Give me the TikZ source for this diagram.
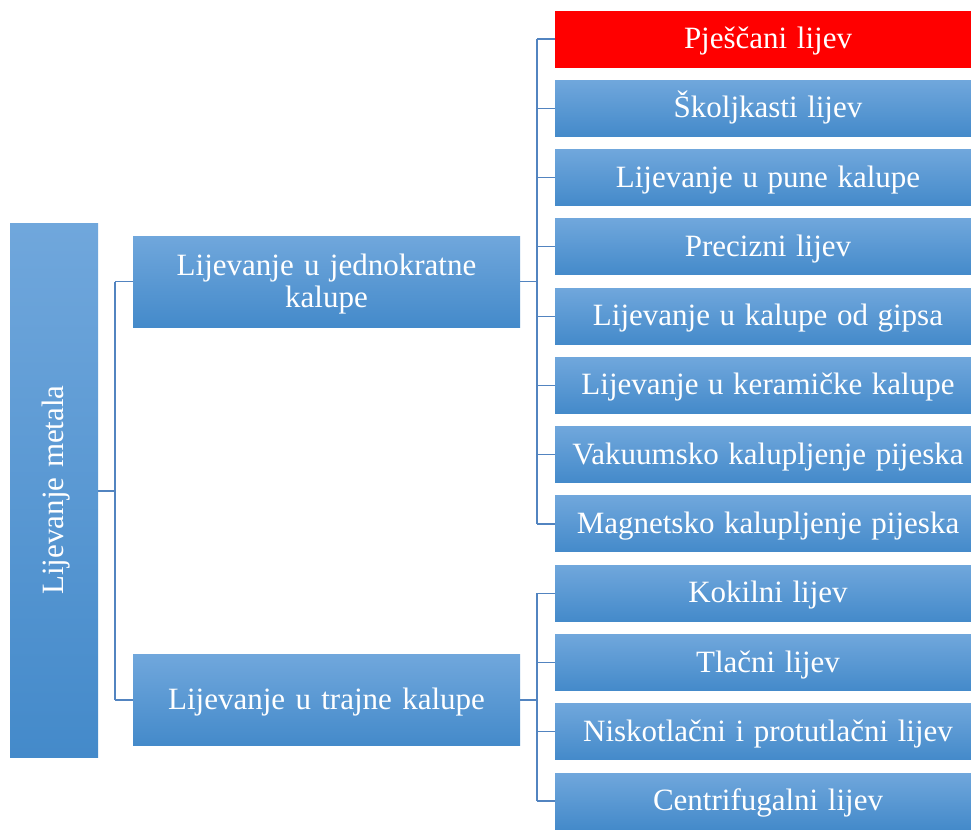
\documentclass[tikz,border=0pt]{standalone}
\usepackage{fontspec}
\setmainfont{Liberation Serif}
\definecolor{gtop}{RGB}{112,167,220}
\definecolor{gmid}{RGB}{85,154,218}
\definecolor{gbot}{RGB}{68,138,202}
\definecolor{linec}{RGB}{82,132,192}
\definecolor{redbox}{RGB}{255,0,0}
\newcommand{\boxfont}{\fontsize{31}{32}\selectfont\spaceskip=0.31em plus 0.05em minus 0.05em\relax}
\begin{document}
\begin{tikzpicture}[x=1pt,y=-1pt,
  box/.style={rectangle, inner sep=0pt, draw=none, top color=gtop, middle color=gmid, bottom color=gbot,
    text=white, align=center, font=\boxfont},
  leaf/.style={box, minimum width=426pt, minimum height=56pt, text height=26pt, text depth=7pt},
  mid/.style={box, minimum width=387pt, minimum height=91pt, text width=380pt},
  conn/.style={draw=linec, line width=1.2pt}]
\clip (0,0) rectangle (971,831);
\fill[white] (0,0) rectangle (971,831);
% root
\node[box, minimum width=88pt, minimum height=534pt] (root) at (54,490) {\rotatebox{90}{\raisebox{0pt}[26pt][7pt]{Lijevanje metala}}};
% level 1
\node[mid, text height=26pt, text depth=39pt] (A) at (326.5,281.5) {Lijevanje u jednokratne\\kalupe};
\node[mid, text height=26pt, text depth=7pt] (B) at (326.5,700) {Lijevanje u trajne kalupe};
% level 2
\node[leaf, top color=redbox, bottom color=redbox, middle color=redbox] (c1) at (768,39) {Pješčani lijev};
\node[leaf] (c2) at (768,108.3) {Školjkasti lijev};
\node[leaf] (c3) at (768,177.5) {Lijevanje u pune kalupe};
\node[leaf] (c4) at (768,246.8) {Precizni lijev};
\node[leaf] (c5) at (768,316.1) {Lijevanje u kalupe od gipsa};
\node[leaf] (c6) at (768,385.4) {Lijevanje u keramičke kalupe};
\node[leaf] (c7) at (768,454.6) {Vakuumsko kalupljenje pijeska};
\node[leaf] (c8) at (768,523.9) {Magnetsko kalupljenje pijeska};
\node[leaf] (d1) at (768,593.2) {Kokilni lijev};
\node[leaf] (d2) at (768,662.5) {Tlačni lijev};
\node[leaf] (d3) at (768,731.7) {Niskotlačni i protutlačni lijev};
\node[leaf] (d4) at (768,801) {Centrifugalni lijev};
% connectors
\coordinate (j0) at (115,491);
\coordinate (j1) at (537,281.5);
\coordinate (j2) at (537,700);
\draw[conn] (root.east |- j0) -- (j0);
\draw[conn] (j0 |- A.west) -- (j0 |- B.west);
\draw[conn] (j0 |- A.west) -- (A.west);
\draw[conn] (j0 |- B.west) -- (B.west);
\draw[conn] (A.east) -- (j1);
\draw[conn] (j1 |- c1.west) -- (j1 |- c8.west);
\foreach \n in {c1,c2,c3,c4,c5,c6,c7,c8}{\draw[conn] (j1 |- \n.west) -- (\n.west);}
\draw[conn] (B.east) -- (j2);
\draw[conn] (j2 |- d1.west) -- (j2 |- d4.west);
\foreach \n in {d1,d2,d3,d4}{\draw[conn] (j2 |- \n.west) -- (\n.west);}
\end{tikzpicture}
\end{document}
